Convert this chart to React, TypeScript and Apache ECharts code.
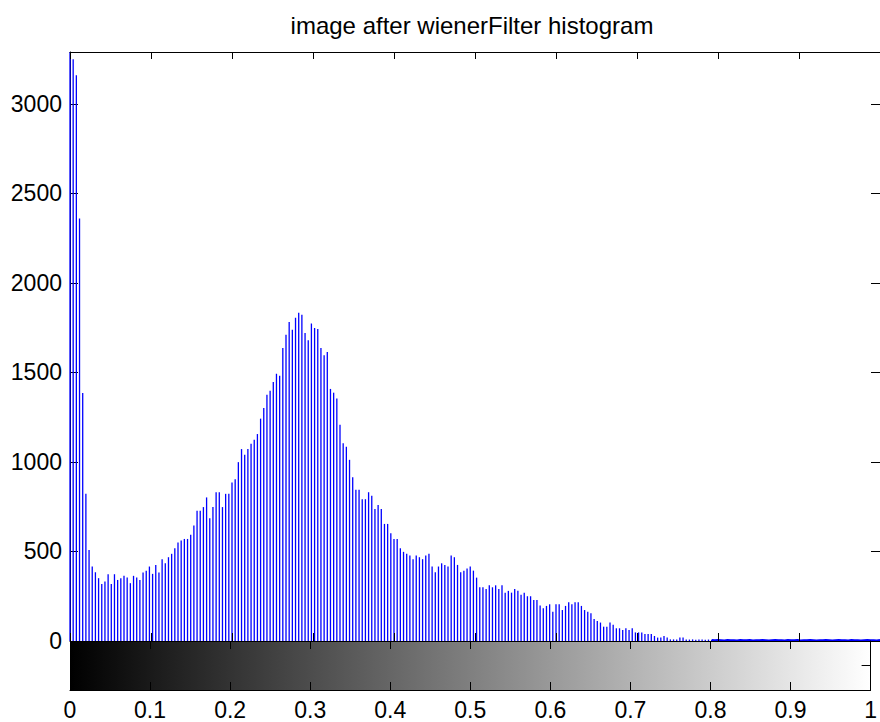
import React, { useEffect, useRef } from "react";
import * as echarts from "echarts";

const TITLE = "image after wienerFilter histogram";
const X_MIN = 0;
const X_MAX = 1;
const X_INTERVAL = 0.1;
const Y_MIN = 0;
const Y_MAX = 3290;
const Y_INTERVAL = 500;
const BIN_COUNT = 256;
const TAIL_START = 202;
const COLORBAR_RANGE = [0, 1];

// pixel counts per gray-level bin
const COUNTS = [
  3290, 3250, 3160, 2360, 1385, 822, 508, 416, 384, 351,
  319, 332, 373, 319, 373, 341, 351, 364, 354, 323,
  364, 354, 341, 382, 393, 416, 375, 425, 382, 457,
  434, 468, 487, 518, 550, 561, 570, 570, 593, 645,
  727, 727, 748, 802, 686, 748, 831, 831, 748, 822,
  822, 886, 904, 999, 1072, 1040, 1072, 1102, 1124, 1156,
  1242, 1301, 1376, 1398, 1447, 1493, 1482, 1637, 1711, 1782,
  1739, 1805, 1833, 1823, 1721, 1680, 1773, 1749, 1743, 1637,
  1596, 1614, 1408, 1387, 1355, 1208, 1105, 1085, 1012, 915,
  845, 845, 792, 792, 831, 811, 738, 759, 738, 654,
  654, 602, 570, 570, 518, 498, 487, 477, 457, 477,
  468, 457, 477, 487, 416, 384, 416, 434, 425, 416,
  477, 468, 425, 384, 393, 405, 416, 393, 354, 300,
  300, 291, 311, 300, 311, 291, 311, 270, 280, 270,
  291, 280, 259, 270, 250, 250, 229, 229, 198, 183,
  196, 205, 164, 205, 205, 173, 196, 216, 205, 216,
  216, 196, 173, 164, 155, 123, 112, 103, 80, 80,
  103, 91, 71, 71, 62, 71, 62, 71, 48, 48,
  48, 39, 39, 39, 28, 19, 19, 28, 19, 9,
  9, 9, 19, 19, 9, 8, 9, 7, 8, 9,
  7, 8, 6, 4, 5, 4, 3, 5, 4, 4,
  3, 5, 4, 4, 5, 3, 4, 4, 5, 4,
  3, 4, 5, 4, 4, 3, 5, 4, 4, 5,
  3, 4, 4, 5, 4, 3, 4, 4, 5, 4,
  3, 4, 5, 4, 4, 3, 5, 4, 4, 3,
  4, 5, 4, 4, 3, 5,
];

const FONT = '"Liberation Sans", Arial, Helvetica, sans-serif';

export default function App() {
  const ref = useRef<HTMLDivElement>(null);

  useEffect(() => {
    if (!ref.current) return;
    const chart = echarts.init(ref.current, undefined, { renderer: "svg" });

    const histData = COUNTS.map((v, i) => [i / (BIN_COUNT - 1), v]);
    const tailData = histData.slice(TAIL_START);

    const axisLine = { show: true, onZero: false, lineStyle: { color: "#000", width: 1 } };
    const tick = (length: number) => ({
      show: true,
      inside: true,
      length,
      lineStyle: { color: "#000", width: 1 },
    });
    const xCommon = {
      type: "value" as const,
      min: X_MIN,
      max: X_MAX,
      interval: X_INTERVAL,
      splitLine: { show: false },
      axisLine,
      z: 5,
    };

    const option: any = {
      animation: false,
      backgroundColor: "#fff",
      textStyle: { fontFamily: FONT },
      graphic: [
        {
          type: "text",
          x: 472,
          y: 13,
          style: {
            text: TITLE,
            font: `24px ${FONT}`,
            fill: "#000",
            textAlign: "center",
            textVerticalAlign: "top",
          },
        },
      ],
      grid: [
        { left: 70, top: 52, width: 812, height: 589 },
        { left: 70, top: 641, width: 812, height: 49 },
      ],
      xAxis: [
        {
          ...xCommon,
          gridIndex: 0,
          position: "bottom",
          axisLabel: { show: false },
          axisTick: tick(8),
        },
        {
          ...xCommon,
          gridIndex: 0,
          position: "top",
          axisLabel: { show: false },
          axisTick: tick(7),
        },
        {
          ...xCommon,
          gridIndex: 1,
          position: "bottom",
          axisLabel: {
            show: true,
            color: "#000",
            fontSize: 23,
            fontFamily: FONT,
            margin: 8,
            showMinLabel: true,
            showMaxLabel: true,
            alignMinLabel: "center",
            alignMaxLabel: "center",
            hideOverlap: false,
          },
          axisTick: tick(8),
        },
        {
          ...xCommon,
          gridIndex: 1,
          position: "top",
          axisLine: { show: false, onZero: false },
          axisLabel: { show: false },
          axisTick: tick(8),
        },
      ],
      yAxis: [
        {
          type: "value",
          gridIndex: 0,
          position: "left",
          min: Y_MIN,
          max: Y_MAX,
          interval: Y_INTERVAL,
          splitLine: { show: false },
          axisLine,
          z: 1,
          axisTick: tick(8),
          axisLabel: {
            show: true,
            color: "#000",
            fontSize: 23,
            fontFamily: FONT,
            margin: 8,
            formatter: (v: number) => (v % Y_INTERVAL === 0 ? String(v) : ""),
          },
        },
        {
          type: "value",
          gridIndex: 0,
          position: "right",
          min: Y_MIN,
          max: Y_MAX,
          interval: Y_INTERVAL,
          splitLine: { show: false },
          axisLine,
          z: 5,
          axisTick: tick(9),
          axisLabel: { show: false },
        },
        {
          type: "value",
          gridIndex: 1,
          position: "left",
          min: COLORBAR_RANGE[0],
          max: COLORBAR_RANGE[1],
          splitLine: { show: false },
          axisLine,
          z: 5,
          axisTick: { show: false },
          axisLabel: { show: false },
        },
        {
          type: "value",
          gridIndex: 1,
          position: "right",
          min: COLORBAR_RANGE[0],
          max: COLORBAR_RANGE[1],
          interval: 0.5,
          splitLine: { show: false },
          axisLine,
          z: 5,
          axisTick: tick(9),
          axisLabel: { show: false },
        },
      ],
      series: [
        {
          type: "bar",
          xAxisIndex: 0,
          yAxisIndex: 0,
          data: histData,
          barWidth: 1.3,
          clip: true,
          itemStyle: { color: "#0000ff" },
          z: 2,
        },
        {
          type: "line",
          xAxisIndex: 0,
          yAxisIndex: 0,
          data: tailData,
          symbol: "none",
          clip: true,
          lineStyle: { color: "#0000ff", width: 2 },
          z: 3,
        },
        {
          type: "custom",
          xAxisIndex: 2,
          yAxisIndex: 2,
          data: [[COLORBAR_RANGE[0], COLORBAR_RANGE[1]]],
          z: 1,
          renderItem: (_params: any, api: any) => {
            const p0 = api.coord([COLORBAR_RANGE[0], COLORBAR_RANGE[1]]);
            const p1 = api.coord([COLORBAR_RANGE[1], COLORBAR_RANGE[0]]);
            return {
              type: "rect",
              shape: { x: p0[0], y: p0[1], width: p1[0] - p0[0], height: p1[1] - p0[1] },
              style: {
                fill: new echarts.graphic.LinearGradient(0, 0, 1, 0, [
                  { offset: 0, color: "#000000" },
                  { offset: 1, color: "#ffffff" },
                ]),
              },
            };
          },
        },
      ],
    };

    chart.setOption(option);
    return () => chart.dispose();
  }, []);

  return (
    <div
      ref={ref}
      style={{ position: "fixed", left: 0, top: 0, width: 880, height: 722, background: "#fff" }}
    />
  );
}
